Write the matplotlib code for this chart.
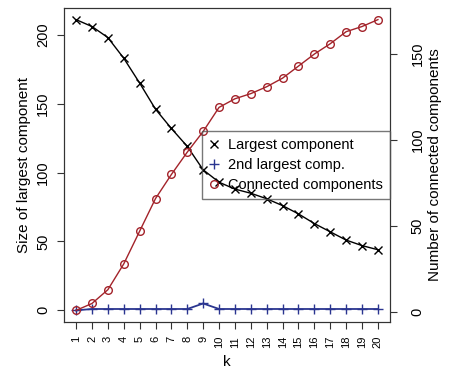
import matplotlib
matplotlib.use('Agg')
import matplotlib.pyplot as plt

plt.rcParams['font.family'] = ['Liberation Sans', 'DejaVu Sans']

k = list(range(1, 21))
largest = [211, 206, 198, 183, 165, 146, 132, 119, 102, 93,
           88, 85, 81, 76, 70, 63, 57, 51, 47, 44]
second = [0, 1, 1, 1, 1, 1, 1, 1, 5, 1,
          1, 1, 1, 1, 1, 1, 1, 1, 1, 1]
n_comp = [1, 5, 13, 28, 47, 66, 80, 93, 105, 119,
          124, 127, 131, 136, 143, 150, 156, 163, 166, 170]

red = '#a3232a'
blue = '#2a3590'
frame = '#333333'

fig = plt.figure(figsize=(4.5, 3.74), dpi=100)
ax = fig.add_axes([64 / 450, 52 / 374, 326 / 450, 314 / 374])
ax2 = ax.twinx()

h1, = ax.plot(k, largest, color='black', lw=1, marker='x', ms=5.5, mew=1,
              label='Largest component')
h2, = ax.plot(k, second, color=blue, lw=1.3, marker='+', ms=7, mew=1,
              label='2nd largest comp.')
h3, = ax2.plot(k, n_comp, color=red, lw=1, marker='o', ms=5.5, mew=1,
               mfc='none', label='Connected components')

ax.margins(x=0.04, y=0.04)
ax2.margins(x=0.04, y=0.04)

ax.set_xticks(k)
ax.set_xticklabels([str(i) for i in k], rotation=90, fontsize=8)
ax.set_yticks([0, 50, 100, 150, 200])
ax.set_yticklabels(['0', '50', '100', '150', '200'], rotation=90,
                   va='center', fontsize=10.5)
ax2.set_yticks([0, 50, 100, 150])
ax2.set_yticklabels(['0', '50', '100', '150'], rotation=90,
                    va='center', fontsize=10.5)

ax.set_xlabel('k', fontsize=11, labelpad=5)
ax.set_ylabel('Size of largest component', fontsize=11, labelpad=4)
ax2.set_ylabel('Number of connected components', fontsize=11, labelpad=2)

for a in (ax, ax2):
    for s in a.spines.values():
        s.set_color(frame)
    a.tick_params(colors=frame, labelcolor='black', length=5)
ax.tick_params(axis='x', pad=5)
ax.tick_params(axis='y', pad=5)
ax2.tick_params(axis='y', pad=10)

leg = ax2.legend(handles=[h1, h2, h3], loc='center right', fontsize=10.5,
                 borderaxespad=0, frameon=True, fancybox=False,
                 handlelength=0.75, handletextpad=0.55, borderpad=0.5,
                 labelspacing=0.4)
leg.get_frame().set_facecolor('none')
leg.get_frame().set_edgecolor('#555555')
for line in leg.get_lines():
    line.set_linestyle('none')

fig.savefig('out.png', dpi=100)
